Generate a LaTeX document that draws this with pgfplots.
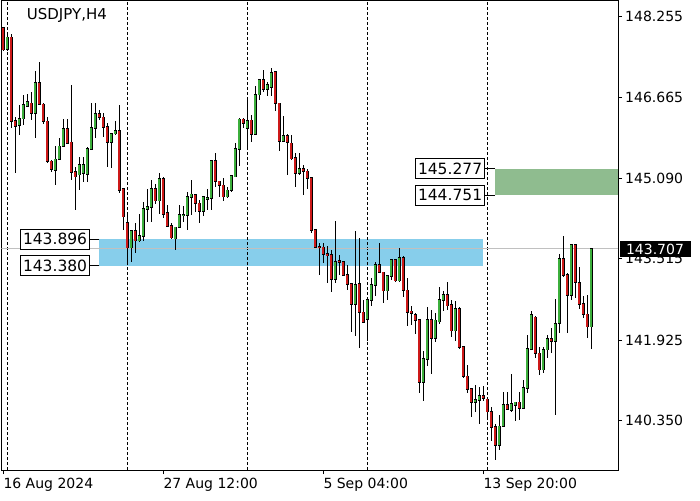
\documentclass[border=0pt]{standalone}
\usepackage{pgfplots}
\pgfplotsset{compat=1.18}
\usepackage{pgfplotstable}
\usepackage{fontspec}
\setmainfont{DejaVu Sans}
\definecolor{upc}{RGB}{60,175,60}
\definecolor{dnc}{RGB}{205,25,25}
\definecolor{zoneblue}{RGB}{135,206,235}
\definecolor{zonegreen}{RGB}{143,188,143}
\definecolor{pline}{RGB}{192,192,192}

\pgfplotstableread{
o h l c
148.02 148.05 147.58 147.60
147.61 147.91 147.58 147.84
147.84 147.91 146.07 146.20
146.21 146.29 145.20 146.10
146.12 146.52 145.94 146.25
146.25 146.72 146.13 146.52
146.50 146.74 146.47 146.58
146.55 146.78 146.23 146.36
146.36 147.19 145.87 146.95
146.95 147.36 146.52 146.54
146.53 146.55 146.15 146.20
146.20 146.29 145.38 145.42
145.42 145.45 145.20 145.27
145.25 145.71 144.96 145.46
145.46 145.87 145.44 145.71
145.71 146.25 145.70 146.05
146.05 146.25 145.76 145.77
145.79 146.91 145.06 145.21
145.21 145.31 144.46 145.12
145.16 145.51 144.85 145.35
145.19 145.51 145.02 145.35
145.17 145.69 145.02 145.66
145.66 146.55 145.64 146.07
146.07 146.55 145.87 146.34
146.34 146.42 146.23 146.28
146.28 146.36 145.90 146.08
146.09 146.17 145.31 145.79
145.79 145.96 145.29 145.96
145.96 146.21 145.94 146.01
146.01 146.51 144.80 144.85
144.88 144.88 144.07 144.34
144.21 144.43 143.44 143.73
143.73 144.06 143.46 144.06
144.06 144.21 143.63 143.87
143.87 144.39 143.84 143.96
143.95 144.63 143.87 144.49
144.48 144.88 144.24 144.53
144.52 145.05 144.24 144.88
144.88 144.98 144.59 144.65
144.65 145.19 144.39 145.08
145.08 145.12 144.31 144.39
144.41 144.57 144.15 144.15
144.16 144.21 143.90 143.93
143.91 144.13 143.69 144.13
144.13 144.57 144.12 144.37
144.36 144.54 144.24 144.37
144.37 144.82 144.07 144.73
144.72 145.06 144.37 144.77
144.77 144.78 144.42 144.60
144.60 144.67 144.22 144.44
144.44 144.75 144.36 144.72
144.68 144.88 144.47 144.71
144.70 145.45 144.46 145.43
145.43 145.58 144.91 145.03
145.03 145.04 144.73 144.95
144.95 145.09 144.65 144.73
144.73 144.91 144.70 144.85
144.85 145.16 144.81 145.14
145.12 145.77 145.12 145.66
145.66 146.26 145.33 146.24
146.24 146.26 146.07 146.16
146.07 146.65 145.70 146.21
146.22 146.33 145.79 145.95
145.95 146.88 145.94 146.72
146.72 147.01 146.61 147.01
147.01 147.21 146.78 146.83
146.83 146.96 146.69 146.91
146.87 147.24 146.69 147.14
147.16 147.16 146.41 146.55
146.55 146.55 145.63 145.81
145.81 146.31 145.80 145.92
145.92 145.96 145.16 145.79
145.77 145.94 145.45 145.47
145.48 145.58 144.91 145.19
145.19 145.58 145.16 145.27
145.27 145.35 144.77 145.22
145.22 145.26 144.87 145.09
145.09 145.12 144.02 144.08
144.08 144.08 143.72 143.74
143.75 143.82 143.19 143.74
143.74 143.82 143.43 143.61
143.61 143.77 143.05 143.58
143.59 143.68 142.86 143.12
143.12 144.26 143.05 143.46
143.48 143.59 143.20 143.45
143.46 143.48 143.17 143.20
143.20 143.40 142.91 143.02
143.02 143.02 142.08 142.63
142.63 144.06 142.00 143.01
143.02 143.92 141.78 142.47
142.47 142.71 142.26 142.28
142.34 142.71 141.91 142.71
142.71 143.14 142.60 143.01
143.00 143.46 142.78 143.40
143.40 143.83 143.24 143.25
143.25 143.25 142.66 142.89
142.89 143.20 142.71 143.18
143.17 143.51 143.11 143.49
143.49 143.51 143.07 143.09
143.09 143.72 143.07 143.53
143.53 143.56 142.77 142.90
142.90 143.14 142.21 142.47
142.49 142.60 142.22 142.45
142.42 142.45 142.04 142.32
142.32 142.32 140.90 141.10
141.10 141.72 140.73 141.56
141.55 142.58 141.42 142.32
142.32 142.52 141.26 141.96
141.96 142.45 141.88 142.31
142.29 142.97 142.24 142.71
142.71 142.89 142.49 142.81
142.81 143.07 142.52 142.60
142.62 142.71 141.98 142.11
142.11 142.70 141.90 142.54
142.54 142.57 141.75 141.79
141.79 141.79 141.19 141.22
141.22 141.44 140.90 140.97
140.97 140.99 140.42 140.71
140.71 141.05 140.53 140.76
140.75 141.02 140.29 140.84
140.84 141.03 140.73 140.79
140.77 140.77 140.38 140.53
140.53 140.63 139.96 140.22
140.23 140.29 139.59 139.87
139.87 140.47 139.77 140.24
140.24 140.92 140.22 140.66
140.66 140.92 140.56 140.58
140.56 141.27 140.53 140.68
140.66 140.72 140.34 140.71
140.71 140.92 140.36 140.60
140.60 141.15 140.58 140.99
140.99 142.03 140.89 141.75
141.75 142.49 141.73 142.42
142.37 142.40 141.57 141.67
141.67 141.80 141.25 141.35
141.35 141.80 141.28 141.74
141.74 142.03 141.57 141.95
141.95 142.16 141.67 141.91
141.91 142.73 140.47 142.24
142.26 143.61 142.06 143.51
143.51 143.96 143.16 143.19
143.20 143.23 142.06 142.80
142.80 143.79 142.71 143.79
143.79 143.79 142.75 143.06
143.04 143.36 142.54 142.63
142.63 142.78 142.35 142.43
142.43 142.81 141.96 142.19
142.19 143.72 141.75 143.707
}\candles

\pgfplotsset{candle/.style={draw=none, no markers, forget plot,
  error bars/.cd, y dir=both, y explicit, error mark=none}}

\begin{document}
\begin{tikzpicture}[font=\fontsize{14}{16}\selectfont]
\begin{axis}[
  at={(1.5pt,30pt)}, anchor=south west,
  width=616.5pt, height=469.5pt, scale only axis,
  xmin=-0.45, xmax=153.675, ymin=139.3888, ymax=148.5588,
  axis line style={black, line width=0.8pt},
  tick align=outside, major tick length=4pt,
  tick style={black, line width=0.8pt},
  xtick pos=left, ytick pos=right, yticklabel pos=right,
  xtick={0,40,80,120},
  xticklabels={16 Aug 2024,27 Aug 12:00,5 Sep 04:00,13 Sep 20:00},
  ytick={140.350,141.925,143.515,145.090,146.665,148.255},
  yticklabels={140.350,141.925,143.515,145.090,146.665,148.255},
  xticklabel style={anchor=north west, inner sep=0pt, yshift=-4pt},
  yticklabel style={anchor=west, inner sep=0pt, xshift=3pt},
  scaled y ticks=false,
  clip=true,
]
% zones
\fill[zoneblue] (axis cs:24,143.380) rectangle (axis cs:119.85,143.896);
\fill[zonegreen] (axis cs:122.93,144.751) rectangle (axis cs:153.675,145.277);
% period separators
\pgfplotsinvokeforeach{1,31,61,91,121}{
  \draw[black, line width=0.8pt, dash pattern=on 3pt off 2pt] (axis cs:#1,139.3888) -- (axis cs:#1,148.5588);
}
% current price line
\draw[pline, line width=0.9pt] (axis cs:-0.45,143.707) -- (axis cs:153.675,143.707);
% wicks
\addplot[candle, error bar style={draw=black, line width=0.9pt}]
  table[x expr=\coordindex, y expr={(\thisrow{h}+\thisrow{l})/2}, y error expr={(\thisrow{h}-\thisrow{l})/2}] {\candles};
% body outline
\addplot[candle, error bar style={draw=black, line width=3.2pt}]
  table[x expr=\coordindex, y expr={(\thisrow{o}+\thisrow{c})/2}, y error expr={abs(\thisrow{c}-\thisrow{o})/2+0.0137}] {\candles};
% up bodies
\addplot[candle, error bar style={draw=upc, line width=1.8pt}]
  table[x expr=\coordindex, y expr={(\thisrow{o}+\thisrow{c})/2}, y error expr={max(\thisrow{c}-\thisrow{o},0)/2}] {\candles};
% down bodies
\addplot[candle, error bar style={draw=dnc, line width=1.8pt}]
  table[x expr=\coordindex, y expr={(\thisrow{o}+\thisrow{c})/2}, y error expr={max(\thisrow{o}-\thisrow{c},0)/2}] {\candles};
\coordinate (bt) at (axis cs:24,143.896);
\coordinate (bb) at (axis cs:24,143.380);
\coordinate (gt) at (axis cs:122.93,145.277);
\coordinate (gb) at (axis cs:122.93,144.751);
\coordinate (cl) at (axis cs:153.675,143.707);
\end{axis}
\tikzset{lvl/.style={anchor=east, draw=black, fill=white, line width=0.8pt, inner xsep=2.5pt, inner ysep=0pt, minimum height=19.5pt, font=\fontsize{15.5}{17}\selectfont}}
\draw[line width=0.8pt] (bt) -- ++(-9.3pt,0) node[lvl] {143.896};
\draw[line width=0.8pt] (bb) -- ++(-9.3pt,0) node[lvl] {143.380};
\draw[line width=0.8pt] (gt) -- ++(-10pt,0) node[lvl] {145.277};
\draw[line width=0.8pt] (gb) -- ++(-10pt,0) node[lvl] {144.751};
\node[anchor=west, fill=black, text=white, inner sep=0pt, minimum width=71pt, minimum height=16pt, xshift=1.3pt] at (cl) {143.707};
\node[anchor=north west, inner sep=0pt, font=\fontsize{15}{17}\selectfont] at (26.7pt,491.7pt) {USDJPY,H4};
\pgfresetboundingbox
\path[use as bounding box] (0pt,0pt) rectangle (700pt,500pt);
\end{tikzpicture}
\end{document}
